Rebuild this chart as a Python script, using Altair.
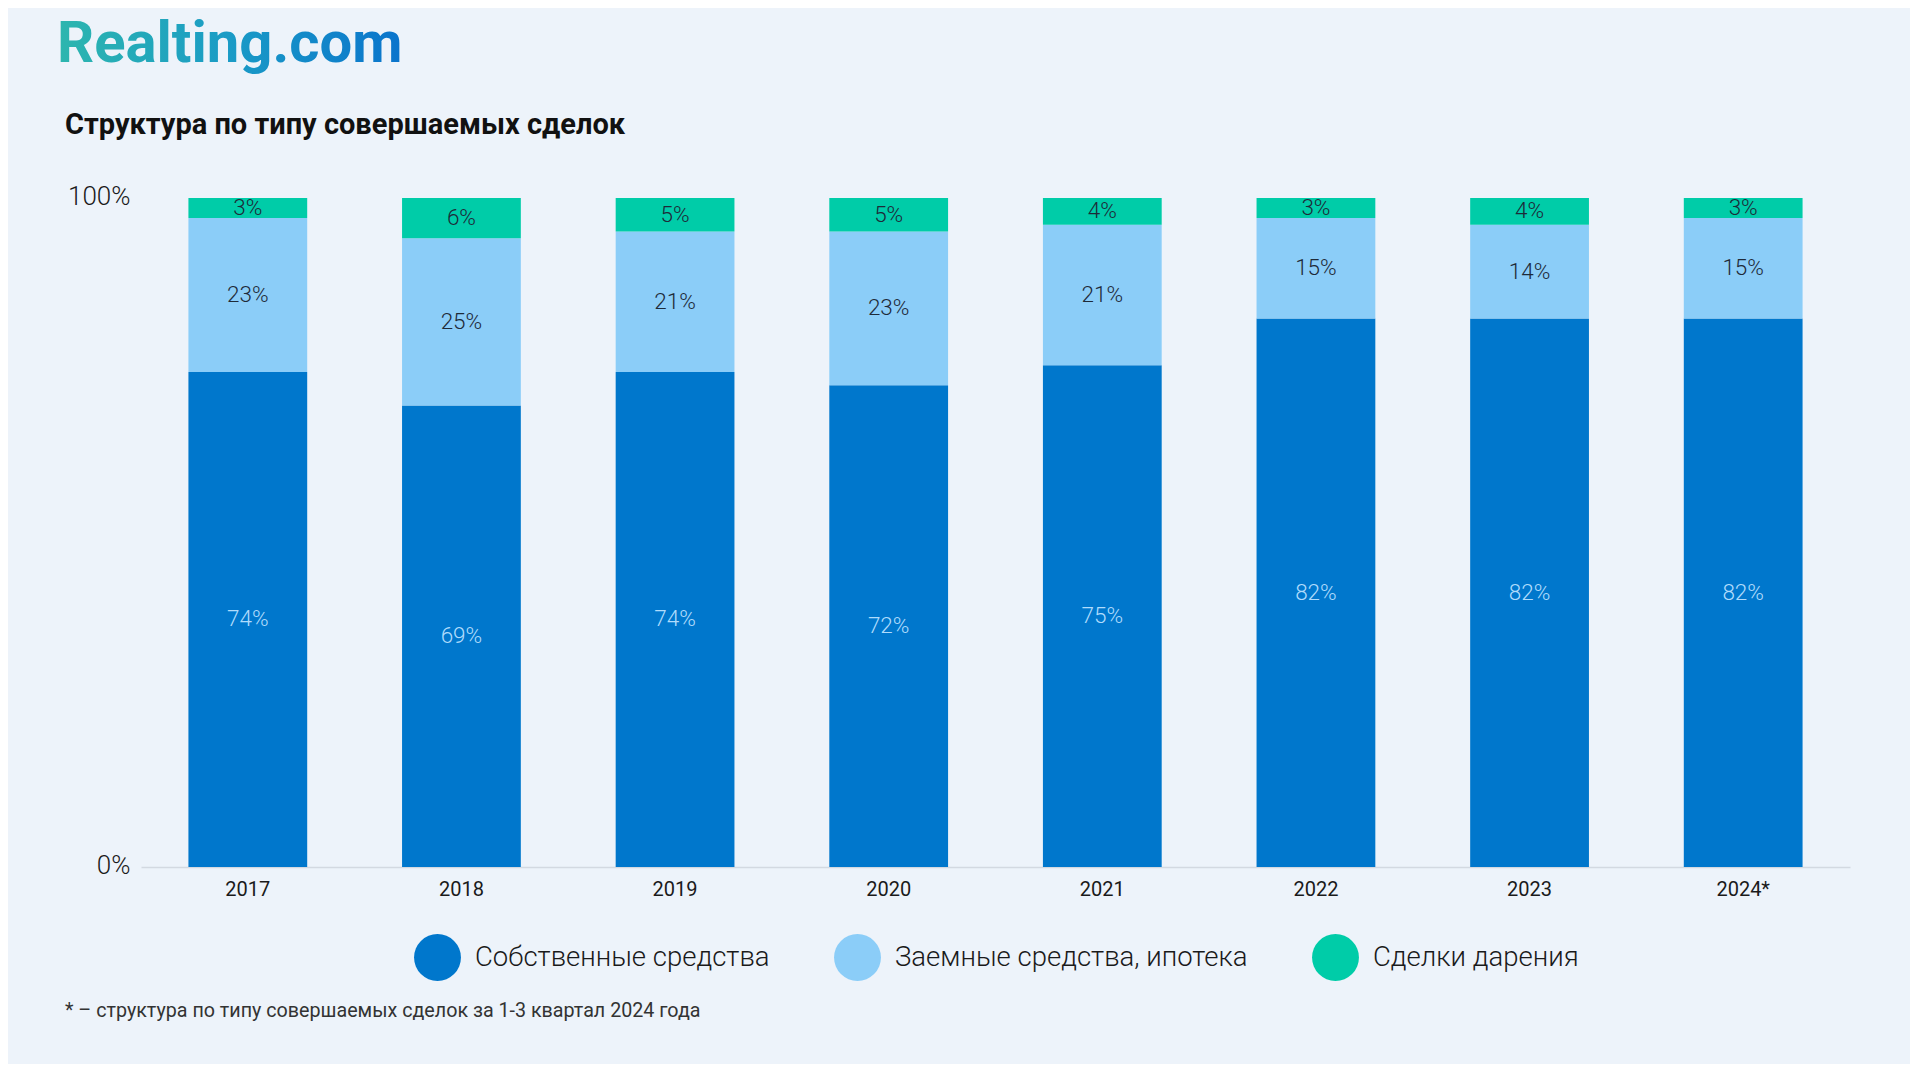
import altair as alt
import pandas as pd

years = ["2017", "2018", "2019", "2020", "2021", "2022", "2023", "2024*"]
series = ["Собственные средства", "Заемные средства, ипотека", "Сделки дарения"]
own = [74, 69, 74, 72, 75, 82, 82, 82]
loan = [23, 25, 21, 23, 21, 15, 14, 15]
gift = [3, 6, 5, 5, 4, 3, 4, 3]
colors = ["#0077CC", "#8BCDF8", "#00CCA8"]
label_colors = ["#B0DCFC", "#1E2A38", "#1E2A38"]

logo_text = "Realting.com"
title_text = "Структура по типу совершаемых сделок"
footnote_text = "* – структура по типу совершаемых сделок за 1-3 квартал 2024 года"

rows = []
for i, y in enumerate(years):
    base = 0
    for k, vals in enumerate([own, loan, gift]):
        v = vals[i]
        rows.append({
            "year": y, "series": series[k], "order": k, "value": v,
            "y0": base, "y1": base + v, "mid": base + v / 2,
            "label": f"{v}%", "lcolor": label_colors[k],
        })
        base += v
df = pd.DataFrame(rows)

FONT = "Roboto"

x_enc = alt.X(
    "year:N", sort=years, title=None,
    scale=alt.Scale(paddingInner=0.444, paddingOuter=0.222),
    axis=alt.Axis(labelAngle=0, ticks=False, domainColor="#D3D9E1", domainWidth=1.5,
                  labelFontSize=20, labelFont=FONT, labelColor="#1A1A1A", labelPadding=12, grid=False),
)
y_scale = alt.Scale(domain=[0, 100], nice=False)

bars = alt.Chart(df).mark_bar().encode(
    x=x_enc,
    y=alt.Y("y0:Q", scale=y_scale, title=None,
            axis=alt.Axis(values=[0, 100], labelExpr="datum.value + '%'", domain=False, ticks=False,
                          grid=False, labelFontSize=26, labelFont=FONT, labelFontWeight=300,
                          labelColor="#1A1A1A", labelPadding=11, labelBaseline="middle", labelOffset=-1.5)),
    y2="y1:Q",
    color=alt.Color("series:N", sort=series, title=None,
                    scale=alt.Scale(domain=series, range=colors),
                    legend=alt.Legend(orient="none", legendX=273, legendY=736, direction="horizontal",
                                      symbolType="circle", symbolSize=2200, symbolStrokeWidth=0,
                                      symbolOpacity=1, labelFontSize=27.5, labelFont=FONT,
                                      labelFontWeight=300, labelColor="#1A1A1A", labelOffset=14,
                                      columnPadding=64, padding=0, labelLimit=600)),
    order=alt.Order("order:Q"),
)

labels = alt.Chart(df).mark_text(fontSize=22.5, font=FONT, fontWeight=300, baseline="middle").encode(
    x=alt.X("year:N", sort=years),
    y=alt.Y("mid:Q", scale=y_scale),
    text="label:N",
    color=alt.Color("lcolor:N", scale=None, legend=None),
)

logo = alt.Chart(pd.DataFrame({"t": [logo_text]})).mark_text(
    font="Roboto", fontSize=58, fontWeight=700, align="left", baseline="alphabetic",
    color=alt.LinearGradient(gradient="linear", x1=0, x2=1, y1=0, y2=0,
                             stops=[alt.GradientStop(color="#2DB6AE", offset=0),
                                    alt.GradientStop(color="#1A9BC6", offset=0.5),
                                    alt.GradientStop(color="#0A74CC", offset=1)]),
).encode(x=alt.value(-84), y=alt.value(-136), text="t:N")

title = alt.Chart(pd.DataFrame({"t": [title_text]})).mark_text(
    font=FONT, fontSize=29, fontWeight=700, align="left", baseline="alphabetic", color="#111111",
).encode(x=alt.value(-76), y=alt.value(-64), text="t:N")

foot = alt.Chart(pd.DataFrame({"t": [footnote_text]})).mark_text(
    font=FONT, fontSize=19.7, fontWeight=400, align="left", baseline="alphabetic", color="#333333",
).encode(x=alt.value(-76), y=alt.value(819), text="t:N")

chart = alt.layer(bars, labels, logo, title, foot).properties(
    width=1709, height=669,
    padding={"left": 133, "top": 190, "right": 60, "bottom": 197},
    autosize=alt.AutoSizeParams(type="none"),
    background="#EDF3FA",
).configure_view(stroke=None)

chart.save("out.html", embed_options={"renderer": "svg", "actions": False})
